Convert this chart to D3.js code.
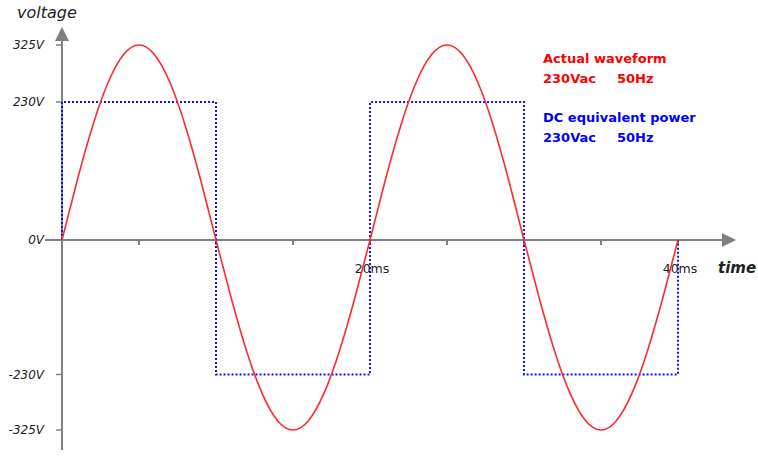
<!DOCTYPE html>
<html><head><meta charset="utf-8">
<script src="https://cdn.jsdelivr.net/npm/d3@7"></script>
<style>body{margin:0;background:#fff}svg{display:block}</style>
</head><body>
<svg id="c" width="758" height="456"></svg>
<script>
// time in ms, sampled every 1 ms
const timesMs = d3.range(0, 41);
const actualVolts = [0,100.4,191,262.9,309.1,325,309.1,262.9,191,100.4,0,-100.4,-191,-262.9,-309.1,-325,-309.1,-262.9,-191,-100.4,
  0,100.4,191,262.9,309.1,325,309.1,262.9,191,100.4,0,-100.4,-191,-262.9,-309.1,-325,-309.1,-262.9,-191,-100.4,0];
const dcTimes = [0,0,10,10,20,20,30,30,40,40];
const dcVolts = [0,230,230,-230,-230,230,230,-230,-230,0];
const yTickValues = [325,230,0,-230,-325];
const yTickLabels = ["325V","230V","0V","-230V","-325V"];
const xTickValues = [0,5,10,15,20,25,30,35,40];
const xTickLabels = {20:"20ms",40:"40ms"};
const legendLines = [["Actual waveform"],["230Vac","50Hz"],["DC equivalent power"],["230Vac","50Hz"]];

const svg = d3.select("#c");
const x = d3.scaleLinear().domain([0,40]).range([62,678]);
const y = d3.scaleLinear().domain([-325,0,325]).range([430,240,45]);
const gray = "#808080";

// axes lines
svg.append("line").attr("x1",62).attr("x2",62).attr("y1",38).attr("y2",450).attr("stroke",gray).attr("stroke-width",2);
svg.append("line").attr("x1",45).attr("x2",725).attr("y1",y(0)).attr("y2",y(0)).attr("stroke",gray).attr("stroke-width",2);
svg.append("path").attr("d",`M62,27 L55,41 L69,41 Z`).attr("fill",gray);
svg.append("path").attr("d",`M736,${y(0)} L722,${y(0)-7} L722,${y(0)+7} Z`).attr("fill",gray);

// y ticks
yTickValues.forEach((v,i)=>{
  if(v!==0) svg.append("line").attr("x1",56).attr("x2",62).attr("y1",y(v)).attr("y2",y(v)).attr("stroke",gray).attr("stroke-width",1.5);
  svg.append("text").attr("x",44).attr("y",y(v)).attr("dy","0.35em").attr("text-anchor","end")
    .attr("font-family","DejaVu Sans").attr("font-style","italic").attr("font-size",12).attr("fill","#222").text(yTickLabels[i]);
});
// x ticks
xTickValues.forEach(v=>{
  svg.append("line").attr("x1",x(v)).attr("x2",x(v)).attr("y1",y(0)).attr("y2",y(0)+5).attr("stroke",gray).attr("stroke-width",2);
  if(xTickLabels[v]) svg.append("text").attr("x",x(v)+2).attr("y",y(0)+33).attr("text-anchor","middle")
    .attr("font-family","DejaVu Sans").attr("font-size",12.5).attr("fill","#222").text(xTickLabels[v]);
});

// axis titles
svg.append("text").attr("x",17).attr("y",18).attr("font-family","DejaVu Sans").attr("font-style","italic")
  .attr("font-size",16).attr("fill","#222").text("voltage");
svg.append("text").attr("x",718).attr("y",273).attr("font-family","DejaVu Sans").attr("font-style","italic").attr("font-weight","bold")
  .attr("font-size",15).attr("fill","#222").text("time");

// DC equivalent
const dcLine = d3.line().x((d,i)=>x(dcTimes[i])).y((d,i)=>y(dcVolts[i]));
svg.append("path").datum(dcVolts).attr("d",dcLine).attr("fill","none").attr("stroke","#1010ff")
  .attr("stroke-width",2).attr("stroke-dasharray","2,2");

// sine
const sLine = d3.line().x((d,i)=>x(timesMs[i])).y(d=>y(d)).curve(d3.curveNatural);
svg.append("path").datum(actualVolts).attr("d",sLine).attr("fill","none").attr("stroke","#ff2a2a").attr("stroke-width",1.6);

// legend
const ly = [63,83,122,142], lc = ["#ff0000","#ff0000","#0000ff","#0000ff"];
legendLines.forEach((parts,i)=>{
  parts.forEach((t,j)=>{
    svg.append("text").attr("x",j===0?543:617).attr("y",ly[i]).attr("font-family","DejaVu Sans").attr("font-weight","bold")
      .attr("font-size",13).attr("fill",lc[i]).text(t);
  });
});
</script>
</body></html>
